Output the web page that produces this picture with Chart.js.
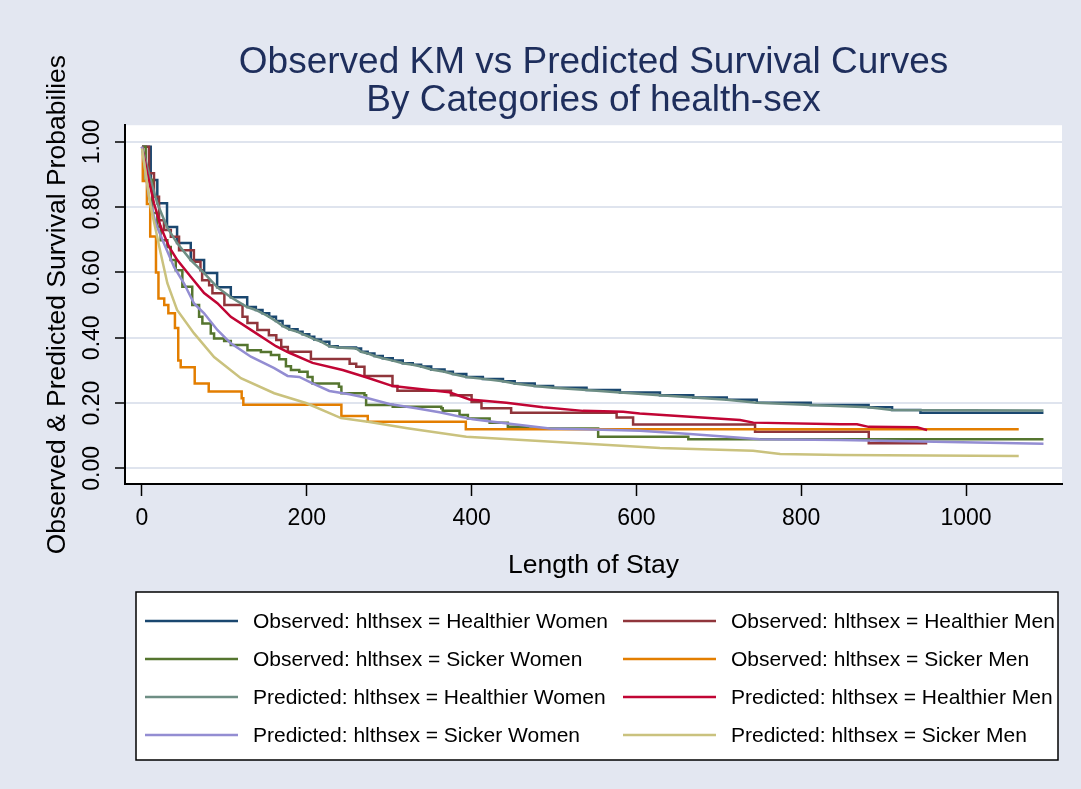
<!DOCTYPE html>
<html>
<head>
<meta charset="utf-8">
<title>Observed KM vs Predicted Survival Curves</title>
<script src="https://cdn.jsdelivr.net/npm/chart.js@4.4.1/dist/chart.umd.min.js"></script>
<style>
  html, body { margin: 0; padding: 0; background: #e3e7f1; }
  #wrap { width: 1081px; height: 789px; }
</style>
</head>
<body>
<div id="wrap"><canvas id="myChart" width="1081" height="789"></canvas></div>
<script>
// Judul dan label sumbu
const titleLines = ['Observed KM vs Predicted Survival Curves', 'By Categories of health-sex'];
const xTitle = 'Length of Stay';
const yTitle = 'Observed & Predicted Survival Probabilies';
const xTicks = [0, 200, 400, 600, 800, 1000];
const yTicks = [0, 0.2, 0.4, 0.6, 0.8, 1.0];

// Observed KM: Healthier Women
const hwObsT = [0, 10.6, 18.6, 30.4, 42.6, 59.2, 75.4, 91.2, 107.8, 127.7, 138.2, 146.3, 154.4, 162.6, 170.6, 178.7, 188.8, 194.9, 203, 209.1, 217.3, 227.4, 237.5, 259.8, 265.9, 273.9, 282.1, 292.2, 304.3, 316.5, 328.6, 338.8, 351, 367.2, 377.3, 393.6, 413.7, 438.1, 452.3, 476.6, 498.9, 539.5, 580, 628.6, 669, 709.7, 746.1, 811.6, 881.8, 910.3, 944.7, 1094];
const hwObsS = [0.985, 0.883, 0.812, 0.739, 0.690, 0.638, 0.598, 0.555, 0.524, 0.494, 0.485, 0.475, 0.464, 0.451, 0.436, 0.426, 0.418, 0.411, 0.403, 0.395, 0.388, 0.374, 0.370, 0.367, 0.357, 0.352, 0.344, 0.337, 0.330, 0.322, 0.317, 0.312, 0.303, 0.296, 0.289, 0.280, 0.274, 0.267, 0.260, 0.252, 0.247, 0.240, 0.232, 0.224, 0.217, 0.210, 0.201, 0.194, 0.187, 0.179, 0.170, 0.170];

// Observed KM: Healthier Men
const hmObsT = [0, 8.5, 14.6, 20.7, 26.7, 35, 45, 63, 71, 73, 81.5, 85.5, 100, 122, 128, 140, 154, 163, 169, 177, 205, 252, 260, 270, 304, 310, 375, 400, 412, 448, 576, 596, 744, 882, 953];
const hmObsS = [0.985, 0.904, 0.832, 0.760, 0.730, 0.709, 0.668, 0.633, 0.607, 0.576, 0.561, 0.536, 0.500, 0.464, 0.445, 0.424, 0.408, 0.393, 0.372, 0.357, 0.335, 0.320, 0.311, 0.283, 0.252, 0.238, 0.224, 0.203, 0.184, 0.170, 0.156, 0.134, 0.112, 0.077, 0.077];

// Observed KM: Sicker Women
const swObsT = [0, 4.5, 12.5, 18.6, 22.7, 30.8, 34.9, 41, 49, 61, 69.3, 73.3, 83.5, 87.5, 99.7, 107.8, 128, 144.3, 156.5, 166.6, 174.7, 180.8, 190.9, 201, 207, 239, 242, 270, 272, 304.3, 363.2, 365, 385.4, 395.5, 421.9, 444, 468.4, 553.6, 663, 1094];
const swObsS = [0.985, 0.883, 0.782, 0.740, 0.699, 0.678, 0.638, 0.607, 0.556, 0.500, 0.464, 0.444, 0.413, 0.398, 0.390, 0.378, 0.362, 0.356, 0.347, 0.334, 0.313, 0.301, 0.296, 0.280, 0.260, 0.250, 0.230, 0.224, 0.194, 0.189, 0.184, 0.176, 0.163, 0.153, 0.140, 0.127, 0.122, 0.097, 0.089, 0.089];

// Observed KM: Sicker Men
const smObsT = [0, 1, 6, 10, 17, 20, 27, 32, 40, 44, 47, 64, 81, 121, 123, 242, 274, 393, 1064];
const smObsS = [0.98, 0.88, 0.81, 0.71, 0.60, 0.52, 0.50, 0.475, 0.43, 0.33, 0.31, 0.26, 0.235, 0.215, 0.195, 0.16, 0.143, 0.12, 0.12];

// Predicted: Healthier Women
const hwPredT = [0, 10.6, 18.6, 30.4, 42.6, 59.2, 75.4, 91.2, 107.8, 127.7, 138.2, 146.3, 154.4, 162.6, 170.6, 178.7, 188.8, 194.9, 203, 209.1, 217.3, 227.4, 237.5, 259.8, 265.9, 273.9, 282.1, 292.2, 304.3, 316.5, 328.6, 338.8, 351, 367.2, 377.3, 393.6, 413.7, 438.1, 452.3, 476.6, 498.9, 539.5, 580, 628.6, 669, 709.7, 746.1, 811.6, 881.8, 910.3, 1094];
const hwPredS = [0.985, 0.883, 0.812, 0.739, 0.690, 0.638, 0.598, 0.555, 0.524, 0.494, 0.485, 0.475, 0.464, 0.451, 0.436, 0.426, 0.418, 0.411, 0.403, 0.395, 0.388, 0.374, 0.370, 0.367, 0.357, 0.352, 0.344, 0.337, 0.330, 0.322, 0.317, 0.312, 0.303, 0.296, 0.289, 0.280, 0.274, 0.267, 0.260, 0.252, 0.247, 0.240, 0.232, 0.224, 0.217, 0.210, 0.201, 0.194, 0.187, 0.179, 0.177];

// Predicted: Healthier Men
const hmPredT = [0, 6.4, 14.6, 22.7, 32.8, 42.9, 59.2, 75.4, 91.5, 107.8, 132.2, 162.6, 178.7, 207, 243.5, 272, 304.3, 336.8, 373, 397.6, 442.2, 486.7, 535.3, 584, 604, 725.8, 742, 847.4, 867.7, 881.8, 940.7, 952.8];
const hmPredS = [0.985, 0.904, 0.812, 0.740, 0.679, 0.638, 0.587, 0.537, 0.506, 0.464, 0.424, 0.374, 0.354, 0.323, 0.301, 0.279, 0.252, 0.243, 0.233, 0.211, 0.201, 0.187, 0.176, 0.173, 0.168, 0.148, 0.140, 0.135, 0.135, 0.127, 0.126, 0.117];

// Predicted: Sicker Women
const swPredT = [0, 8.5, 16.7, 26.7, 38.9, 51.1, 63.2, 75.4, 91.5, 107.8, 132.2, 160.5, 176.7, 190.9, 207, 227.4, 251.7, 272, 300.3, 332.8, 361, 401.6, 425.9, 494.8, 547.5, 604.3, 665, 750, 847.4, 1094];
const swPredS = [0.985, 0.832, 0.750, 0.689, 0.617, 0.566, 0.505, 0.475, 0.424, 0.383, 0.342, 0.307, 0.283, 0.280, 0.260, 0.237, 0.227, 0.216, 0.197, 0.184, 0.172, 0.150, 0.143, 0.122, 0.119, 0.115, 0.105, 0.089, 0.087, 0.075];

// Predicted: Sicker Men
const smPredT = [0, 5.7, 10.6, 16.7, 22.7, 30.8, 42.6, 63, 87.5, 120, 160.5, 199, 241.6, 276, 322, 393.6, 628.6, 741.6, 774.5, 847, 1064];
const smPredS = [0.98, 0.883, 0.801, 0.730, 0.659, 0.567, 0.485, 0.414, 0.341, 0.276, 0.230, 0.200, 0.154, 0.142, 0.123, 0.097, 0.062, 0.054, 0.044, 0.041, 0.038];

// Gabungkan waktu dan nilai menjadi titik {x, y}
function toPoints(times, surv) {
    return times.map((t, i) => ({ x: t, y: surv[i] }));
}

function makeSeries(label, times, surv, color, stepped, idx) {
    return {
        label: label,
        data: toPoints(times, surv),
        borderColor: color,
        backgroundColor: color,
        borderWidth: 2.5,
        pointRadius: 0,
        fill: false,
        tension: 0,
        stepped: stepped ? 'before' : false,
        order: 8 - idx // seri berikutnya digambar di atas
    };
}

const datasets = [
    makeSeries('Observed: hlthsex = Healthier Women', hwObsT, hwObsS, '#1a476f', true, 0),
    makeSeries('Observed: hlthsex = Healthier Men', hmObsT, hmObsS, '#90353b', true, 1),
    makeSeries('Observed: hlthsex = Sicker Women', swObsT, swObsS, '#55752f', true, 2),
    makeSeries('Observed: hlthsex = Sicker Men', smObsT, smObsS, '#e37e00', true, 3),
    makeSeries('Predicted: hlthsex = Healthier Women', hwPredT, hwPredS, '#6e8e84', false, 4),
    makeSeries('Predicted: hlthsex = Healthier Men', hmPredT, hmPredS, '#c10534', false, 5),
    makeSeries('Predicted: hlthsex = Sicker Women', swPredT, swPredS, '#938dd2', false, 6),
    makeSeries('Predicted: hlthsex = Sicker Men', smPredT, smPredS, '#cac27e', false, 7)
];

// Latar putih untuk area plot
const plotBackground = {
    id: 'plotBackground',
    beforeDraw(chart) {
        const { ctx, chartArea: a } = chart;
        ctx.save();
        ctx.fillStyle = '#ffffff';
        ctx.fillRect(a.left, a.top, a.right - a.left, a.bottom - a.top);
        ctx.restore();
    }
};

// Legenda kotak dua kolom di bawah grafik
const boxLegend = {
    id: 'boxLegend',
    afterDraw(chart) {
        const ctx = chart.ctx;
        const a = chart.chartArea;
        const left = a.left + 11;
        const right = a.right - 4;
        const top = a.bottom + 108;
        const bottom = chart.height - 29;
        const colW = (right - left) / 2 + 17;

        ctx.save();
        ctx.fillStyle = '#ffffff';
        ctx.fillRect(left, top, right - left, bottom - top);
        ctx.strokeStyle = '#000000';
        ctx.lineWidth = 1.5;
        ctx.strokeRect(left, top, right - left, bottom - top);

        ctx.beginPath();
        ctx.rect(left, top, right - left, bottom - top);
        ctx.clip();

        ctx.font = '21px "Liberation Sans", Arial, sans-serif';
        ctx.textBaseline = 'middle';
        ctx.fillStyle = '#000000';

        chart.data.datasets.forEach((ds, i) => {
            const col = i % 2;
            const row = Math.floor(i / 2);
            const x0 = left + 9 + col * colW;
            const y = top + 29 + row * 38;
            ctx.strokeStyle = ds.borderColor;
            ctx.lineWidth = 2.5;
            ctx.beginPath();
            ctx.moveTo(x0, y);
            ctx.lineTo(x0 + 93, y);
            ctx.stroke();
            ctx.fillText(ds.label, x0 + 108, y + 1);
        });
        ctx.restore();
    }
};

Chart.defaults.font.family = '"Liberation Sans", Arial, sans-serif';

const ctx = document.getElementById('myChart').getContext('2d');
const myChart = new Chart(ctx, {
    type: 'line',
    data: { datasets: datasets },
    options: {
        responsive: false,
        animation: false,
        devicePixelRatio: 1,
        layout: { padding: { left: 0, right: 19, top: 0, bottom: 205 } },
        plugins: {
            legend: { display: false },
            tooltip: { enabled: false },
            title: {
                display: true,
                fullSize: false, // pusatkan di atas area plot
                text: titleLines,
                color: '#1e2e5c',
                font: { size: 37, weight: 'normal', lineHeight: 1.03 },
                padding: { top: 44, bottom: 5 }
            }
        },
        scales: {
            x: {
                type: 'linear',
                min: -20.6,
                max: 1116.5,
                afterBuildTicks: s => { s.ticks = xTicks.map(v => ({ value: v })); },
                afterFit: s => { s.height = 100; },
                grid: { drawOnChartArea: false, tickColor: '#000', tickLength: 12, tickWidth: 1.5 },
                border: { color: '#000', width: 2 },
                ticks: { maxRotation: 0, padding: 9, color: '#000', font: { size: 23 }, callback: v => String(v) },
                title: { display: true, text: xTitle, color: '#000', font: { size: 26.5 }, padding: { top: 0, bottom: 2 } }
            },
            y: {
                type: 'linear',
                min: -0.048,
                max: 1.051,
                afterBuildTicks: s => { s.ticks = yTicks.map(v => ({ value: v })); },
                afterFit: s => { s.width = 125; },
                grid: { color: '#dfe4ee', lineWidth: 2, tickColor: '#000', tickLength: 10, tickWidth: 1.5 },
                border: { color: '#000', width: 2 },
                ticks: { minRotation: 90, maxRotation: 90, crossAlign: 'center', padding: 0, color: '#000', font: { size: 23 }, callback: v => v.toFixed(2) },
                title: { display: true, text: yTitle, color: '#000', font: { size: 26.5 }, padding: { top: 42, bottom: 0 } }
            }
        }
    },
    plugins: [plotBackground, boxLegend]
});
</script>
</body>
</html>
